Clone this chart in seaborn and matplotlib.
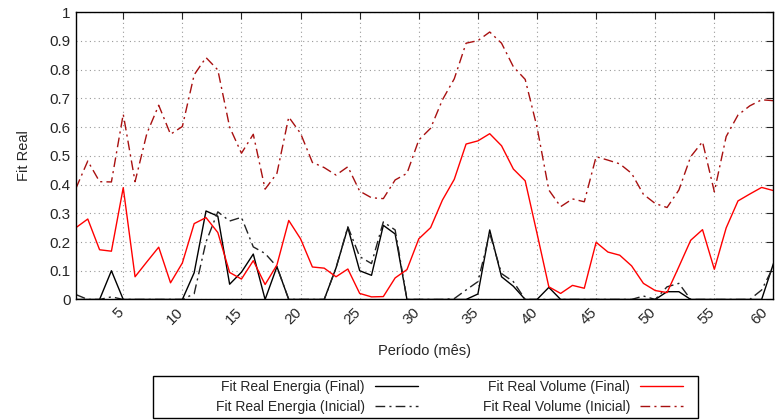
import numpy as np
import pandas as pd
import seaborn as sns
import matplotlib.pyplot as plt
import matplotlib.transforms as mtransforms
from matplotlib.patches import Rectangle
from matplotlib.ticker import MultipleLocator

# data

periodos = list(range(1, 61))

energia_final = [0, 0, 0, 0.10, 0, 0, 0, 0, 0, 0,
                 0.093, 0.308, 0.29, 0.053, 0.095, 0.158, 0, 0.114, 0, 0,
                 0, 0, 0.11, 0.25, 0.10, 0.084, 0.258, 0.228, 0, 0,
                 0, 0, 0, 0, 0.019, 0.242, 0.079, 0.046, 0, 0,
                 0.042, 0, 0, 0, 0, 0, 0, 0, 0, 0,
                 0.027, 0.027, 0, 0, 0, 0, 0, 0, 0, 0.125]

energia_inicial = [0.017, 0, 0, 0.009, 0, 0, 0, 0, 0, 0,
                   0.02, 0.2, 0.305, 0.273, 0.286, 0.183, 0.16, 0.114, 0, 0,
                   0, 0, 0.11, 0.253, 0.149, 0.125, 0.27, 0.242, 0, 0,
                   0, 0, 0.003, 0.033, 0.062, 0.23, 0.09, 0.062, 0, 0,
                   0, 0, 0, 0, 0, 0, 0, 0, 0.012, 0,
                   0.044, 0.056, 0, 0, 0, 0, 0, 0, 0.033, 0.114]

volume_final = [0.25, 0.28, 0.173, 0.168, 0.389, 0.079, 0.131, 0.182, 0.058, 0.127,
                0.264, 0.285, 0.233, 0.094, 0.071, 0.135, 0.052, 0.12, 0.275, 0.211,
                0.113, 0.109, 0.079, 0.106, 0.021, 0.009, 0.01, 0.075, 0.104, 0.211,
                0.25, 0.346, 0.418, 0.541, 0.552, 0.577, 0.535, 0.454, 0.413, 0.23,
                0.044, 0.021, 0.049, 0.039, 0.199, 0.165, 0.154, 0.117, 0.056, 0.031,
                0.024, 0.114, 0.206, 0.243, 0.105, 0.249, 0.343, 0.367, 0.39, 0.379]

volume_inicial = [0.387, 0.482, 0.41, 0.409, 0.645, 0.41, 0.578, 0.676, 0.575, 0.602,
                  0.782, 0.842, 0.799, 0.6, 0.509, 0.575, 0.384, 0.439, 0.635, 0.578,
                  0.477, 0.459, 0.433, 0.462, 0.377, 0.354, 0.351, 0.416, 0.439, 0.555,
                  0.596, 0.695, 0.768, 0.892, 0.901, 0.931, 0.892, 0.81, 0.766, 0.6,
                  0.381, 0.323, 0.35, 0.34, 0.497, 0.485, 0.472, 0.439, 0.366, 0.334,
                  0.32, 0.381, 0.497, 0.549, 0.375, 0.567, 0.642, 0.674, 0.695, 0.692]

xticks = list(range(5, 61, 5))

df = pd.DataFrame({'periodo': periodos,
                   'energia_final': energia_final,
                   'energia_inicial': energia_inicial,
                   'volume_final': volume_final,
                   'volume_inicial': volume_inicial})

# style

sns.set_style('white')
plt.rcParams['font.family'] = ['Liberation Sans', 'DejaVu Sans']
plt.rcParams['font.size'] = 10

dashdot = (0, (7, 3, 1.5, 3))

series = [('energia_final', 'Fit Real Energia (Final)', 'black', '-'),
          ('energia_inicial', 'Fit Real Energia (Inicial)', '#222222', dashdot),
          ('volume_final', 'Fit Real Volume (Final)', '#ff0000', '-'),
          ('volume_inicial', 'Fit Real Volume (Inicial)', '#a81010', dashdot)]

fig, ax = plt.subplots(figsize = (7.75, 4.2), dpi = 100)
fig.subplots_adjust(left = 0.098, right = 0.998, top = 0.971, bottom = 0.287)

for col, label, color, ls in series:
    sns.lineplot(data = df, x = 'periodo', y = col, ax = ax, color = color,
                 linestyle = ls, linewidth = 1.0, label = label)

ax.set_xlim(1, 60)
ax.set_ylim(0, 1)
ax.set_xticks(xticks)
ax.set_xticklabels([str(t) for t in xticks])
ax.yaxis.set_major_locator(MultipleLocator(0.1))
ax.set_yticklabels([f'{v:g}' for v in np.round(ax.get_yticks(), 1)])

ax.grid(True, color = '#999999', linestyle = (0, (1, 3)), linewidth = 0.8)
for spine in ax.spines.values():
    spine.set_color('black')
    spine.set_linewidth(1.0)

ax.tick_params(axis = 'both', direction = 'in', length = 5, width = 0.8,
               top = True, right = True, labelsize = 11, pad = 4)
ax.tick_params(axis = 'x', pad = 8)

# rotated x labels, set after tick_params so the shift is not reset
for lbl in ax.get_xticklabels():
    dx = -6 if lbl.get_text() == '60' else -1
    shift = mtransforms.ScaledTranslation(dx / 72, 0, fig.dpi_scale_trans)
    lbl.set_rotation(45)
    lbl.set_ha('right')
    lbl.set_va('center')
    lbl.set_rotation_mode('anchor')
    lbl.set_transform(lbl.get_transform() + shift)

ax.set_xlabel('Período (mês)', fontsize = 10.5, labelpad = 12)
ax.set_ylabel('Fit Real', fontsize = 10.5, labelpad = 13)

handles, labels = ax.get_legend_handles_labels()
ax.get_legend().remove()
fig.legend(handles, labels, ncol = 2, markerfirst = False, loc = 'center',
           bbox_to_anchor = (0.580, 0.0548), frameon = False,
           handlelength = 3.1, handletextpad = 0.7, columnspacing = 4.7,
           labelspacing = 0.42, borderpad = 0, fontsize = 10)

# legend frame, wider than its content as in the reference
fig.patches.append(Rectangle((153 / 775, 1 - 418 / 420), 545 / 775, 42 / 420,
                             transform = fig.transFigure, fill = False,
                             edgecolor = 'black', linewidth = 1.0))

plt.savefig('out.png', dpi = 100)
